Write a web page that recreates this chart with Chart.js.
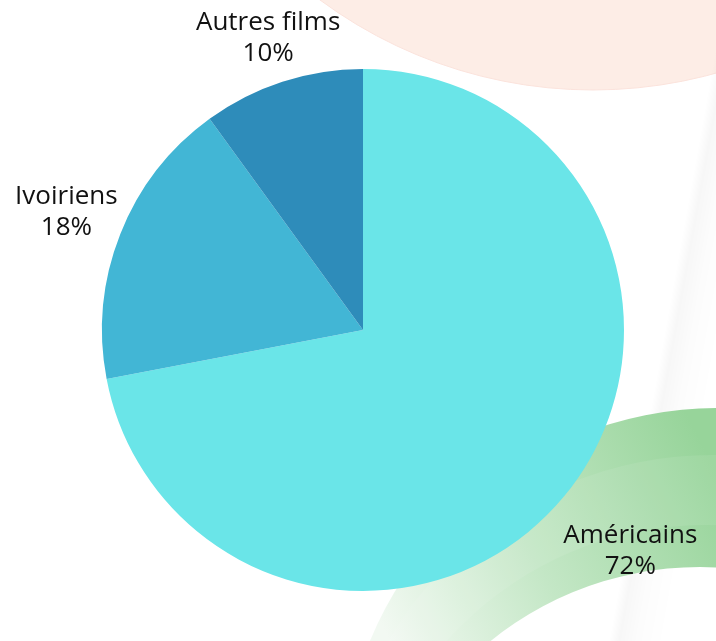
<!DOCTYPE html>
<html lang="fr">
<head>
<meta charset="utf-8">
<title>Films</title>
<script src="https://cdn.jsdelivr.net/npm/chart.js@4.4.1/dist/chart.umd.min.js"></script>
<style>
  html, body { margin: 0; padding: 0; background: #ffffff; }
  #filmsChart { display: block; }
</style>
</head>
<body>
<canvas id="filmsChart" width="716" height="641"></canvas>
<script>
// Données du graphique
const categories = ['Américains', 'Ivoiriens', 'Autres films'];
const valeurs = [72, 18, 10];
const couleurs = ['#6ae5e8', '#42b6d5', '#2e8cba'];

// Décor de fond (cercle pêche, anneau vert, reflet gris)
const decorFond = {
    id: 'decorFond',
    beforeDraw(chart) {
        const ctx = chart.ctx;
        ctx.save();

        // cercle pêche en haut à droite
        ctx.beginPath();
        ctx.arc(593, -369, 459, 0, Math.PI * 2);
        ctx.fillStyle = '#fdede6';
        ctx.fill();
        ctx.strokeStyle = '#fbe3dc';
        ctx.lineWidth = 1;
        ctx.stroke();

        // reflet gris diagonal (dégradé perpendiculaire à la bande)
        const nx = 0.984, ny = 0.177;
        const ox = 677, oy = 320;
        const g = ctx.createLinearGradient(ox - nx * 10, oy - ny * 10, ox + nx * 45, oy + ny * 45);
        g.addColorStop(0, 'rgba(0,0,0,0)');
        g.addColorStop(0.18, 'rgba(0,0,0,0.03)');
        g.addColorStop(0.5, 'rgba(0,0,0,0.012)');
        g.addColorStop(1, 'rgba(0,0,0,0)');
        ctx.beginPath();
        ctx.moveTo(720, 0);
        ctx.lineTo(790, 0);
        ctx.lineTo(675, 641);
        ctx.lineTo(605, 641);
        ctx.closePath();
        ctx.fillStyle = g;
        ctx.fill();

        // anneau vert en bas à droite
        const v = ctx.createLinearGradient(390, 641, 716, 470);
        v.addColorStop(0, '#f2f9f2');
        v.addColorStop(0.45, '#c4e7c6');
        v.addColorStop(1, '#97d49a');
        ctx.beginPath();
        ctx.arc(719, 786, 378, 0, Math.PI * 2);
        ctx.arc(700, 900, 333, 0, Math.PI * 2);
        ctx.fillStyle = v;
        ctx.fill('evenodd');

        // bande légèrement plus claire dans l'anneau
        ctx.beginPath();
        ctx.arc(712, 830, 375, 0, Math.PI * 2);
        ctx.arc(705, 870, 345, 0, Math.PI * 2);
        ctx.fillStyle = 'rgba(255,255,255,0.08)';
        ctx.fill('evenodd');

        ctx.restore();
    }
};

// Étiquettes à l'extérieur des parts : nom + pourcentage
const etiquettes = {
    id: 'etiquettes',
    afterDatasetsDraw(chart, args, opts) {
        const ctx = chart.ctx;
        const meta = chart.getDatasetMeta(0);
        const total = valeurs.reduce((a, b) => a + b, 0);
        ctx.save();
        ctx.font = opts.font;
        ctx.fillStyle = opts.color;
        ctx.textAlign = 'center';
        ctx.textBaseline = 'middle';
        meta.data.forEach((arc, i) => {
            const p = arc.getProps(['x', 'y', 'startAngle', 'endAngle', 'outerRadius'], true);
            const angle = (p.startAngle + p.endAngle) / 2;
            const r = p.outerRadius + opts.distances[i];
            const cx = p.x + Math.cos(angle) * r;
            const cy = p.y + Math.sin(angle) * r;
            const pct = Math.round(valeurs[i] / total * 100) + '%';
            ctx.fillText(categories[i], cx, cy - opts.lineHeight / 2);
            ctx.fillText(pct, cx, cy + opts.lineHeight / 2);
        });
        ctx.restore();
    }
};

new Chart(document.getElementById('filmsChart').getContext('2d'), {
    type: 'pie',
    data: {
        labels: categories,
        datasets: [{
            data: valeurs,
            backgroundColor: couleurs,
            borderWidth: 0
        }]
    },
    options: {
        responsive: false,
        animation: false,
        layout: {
            padding: { left: 102, right: 92, top: 69, bottom: 50 }
        },
        plugins: {
            legend: { display: false },
            tooltip: { enabled: false },
            etiquettes: {
                font: '26px "Open Sans", sans-serif',
                color: '#111111',
                lineHeight: 31,
                distances: [86, 58, 46]
            }
        }
    },
    plugins: [decorFond, etiquettes]
});
</script>
</body>
</html>
